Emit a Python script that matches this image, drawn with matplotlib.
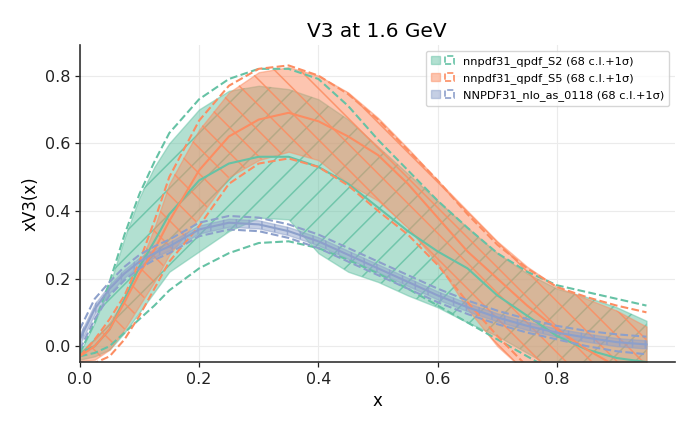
import matplotlib
matplotlib.use("Agg")
import matplotlib.pyplot as plt
import matplotlib.patches as mpatches
from matplotlib.legend_handler import HandlerTuple
from matplotlib.colors import to_rgba

DPI = 230
K = 100.0 / DPI

plt.rcParams.update({
    "font.family": ["DejaVu Sans"],
    "font.size": 10 * K,
    "axes.linewidth": 1.0 * K,
    "lines.linewidth": 1.5 * K,
    "patch.linewidth": 1.0 * K,
    "hatch.linewidth": 1.1 * K,
    "xtick.major.size": 3.5 * K,
    "ytick.major.size": 3.5 * K,
    "xtick.major.width": 0.9 * K,
    "ytick.major.width": 0.9 * K,
    "xtick.major.pad": 3.5 * K,
    "ytick.major.pad": 3.5 * K,
    "grid.linewidth": 0.8 * K,
    "legend.fontsize": 8 * K,
    "axes.titlepad": 6 * K,
    "axes.labelpad": 4 * K,
})

# ---------------- data ----------------
X = [0.0, 0.025, 0.05, 0.075, 0.1, 0.125, 0.15, 0.2, 0.25, 0.3, 0.35, 0.4,
     0.45, 0.5, 0.55, 0.6, 0.65, 0.7, 0.75, 0.8, 0.85, 0.9, 0.95]

labels = ["nnpdf31_qpdf_S2", "nnpdf31_qpdf_S5", "NNPDF31_nlo_as_0118"]
colors = ["#66c2a5", "#fc8d62", "#8da0cb"]
hatches = ["///", "\\\\\\", "|||"]

# nnpdf31_qpdf_S2
s2_cv = [-0.02, 0.00, 0.05, 0.14, 0.235, 0.31, 0.39, 0.49, 0.54, 0.56, 0.56, 0.53,
         0.48, 0.41, 0.34, 0.28, 0.23, 0.15, 0.09, 0.03, -0.01, -0.035, -0.047]
s2_up68 = [-0.02, 0.07, 0.18, 0.32, 0.44, 0.53, 0.60, 0.70, 0.755, 0.77, 0.76, 0.73,
           0.67, 0.59, 0.51, 0.43, 0.35, 0.275, 0.215, 0.17, 0.145, 0.115, 0.075]
s2_lo68 = [-0.04, -0.03, -0.01, 0.04, 0.10, 0.16, 0.22, 0.28, 0.34, 0.38, 0.375, 0.275,
           0.22, 0.19, 0.15, 0.115, 0.07, 0.03, -0.02, -0.07, -0.10, -0.12, -0.14]
s2_up1s = [-0.02, 0.07, 0.19, 0.33, 0.45, 0.545, 0.63, 0.73, 0.79, 0.82, 0.82, 0.79,
           0.71, 0.61, 0.52, 0.43, 0.35, 0.275, 0.22, 0.18, 0.16, 0.14, 0.12]
s2_lo1s = [-0.03, -0.02, 0.0, 0.04, 0.08, 0.12, 0.165, 0.23, 0.275, 0.305, 0.31, 0.29,
           0.255, 0.215, 0.17, 0.12, 0.07, 0.02, -0.03, -0.08, -0.12, -0.15, -0.18]

# nnpdf31_qpdf_S5
s5_cv = [-0.03, 0.0, 0.05, 0.13, 0.215, 0.285, 0.37, 0.52, 0.62, 0.67, 0.69, 0.665,
         0.62, 0.565, 0.48, 0.38, 0.28, 0.20, 0.12, 0.05, -0.01, -0.06, -0.10]
s5_up68 = [-0.02, 0.02, 0.07, 0.14, 0.24, 0.35, 0.48, 0.64, 0.75, 0.81, 0.825, 0.80,
           0.75, 0.675, 0.585, 0.49, 0.40, 0.31, 0.235, 0.175, 0.14, 0.105, 0.058]
s5_lo68 = [-0.045, -0.04, -0.01, 0.05, 0.12, 0.19, 0.27, 0.38, 0.50, 0.55, 0.575, 0.55,
           0.48, 0.43, 0.35, 0.245, 0.11, 0.0, -0.08, -0.14, -0.19, -0.23, -0.27]
s5_up1s = [-0.03, 0.02, 0.08, 0.15, 0.25, 0.37, 0.50, 0.667, 0.77, 0.82, 0.83, 0.80,
           0.745, 0.67, 0.58, 0.49, 0.39, 0.30, 0.23, 0.175, 0.145, 0.12, 0.10]
s5_lo1s = [-0.05, -0.05, -0.03, 0.02, 0.09, 0.17, 0.25, 0.355, 0.48, 0.54, 0.555, 0.53,
           0.475, 0.40, 0.33, 0.24, 0.13, 0.03, -0.06, -0.15, -0.22, -0.28, -0.32]

# NNPDF31_nlo_as_0118
nn_cv = [0.02, 0.11, 0.17, 0.215, 0.25, 0.275, 0.295, 0.345, 0.365, 0.36, 0.34, 0.31,
         0.27, 0.23, 0.19, 0.15, 0.115, 0.085, 0.06, 0.04, 0.025, 0.012, 0.005]
nn_up68 = [0.035, 0.125, 0.182, 0.227, 0.262, 0.287, 0.307, 0.357, 0.377, 0.372, 0.352, 0.322,
           0.282, 0.242, 0.202, 0.162, 0.127, 0.097, 0.072, 0.052, 0.037, 0.024, 0.017]
nn_lo68 = [0.005, 0.095, 0.158, 0.203, 0.238, 0.263, 0.283, 0.333, 0.353, 0.348, 0.328, 0.298,
           0.258, 0.218, 0.178, 0.138, 0.103, 0.073, 0.048, 0.028, 0.013, 0.0, -0.007]
nn_up1s = [0.05, 0.14, 0.19, 0.235, 0.27, 0.295, 0.315, 0.365, 0.385, 0.38, 0.36, 0.33,
           0.29, 0.25, 0.21, 0.17, 0.135, 0.105, 0.08, 0.06, 0.045, 0.035, 0.028]
nn_lo1s = [-0.01, 0.08, 0.15, 0.195, 0.23, 0.255, 0.275, 0.325, 0.345, 0.34, 0.32, 0.29,
           0.25, 0.21, 0.17, 0.13, 0.095, 0.065, 0.04, 0.02, 0.0, -0.015, -0.024]

series = [
    (s2_cv, s2_up68, s2_lo68, s2_up1s, s2_lo1s),
    (s5_cv, s5_up68, s5_lo68, s5_up1s, s5_lo1s),
    (nn_cv, nn_up68, nn_lo68, nn_up1s, nn_lo1s),
]

# ---------------- plot ----------------
fig = plt.figure(figsize=(700 / DPI, 430 / DPI), dpi=DPI)
ax = fig.add_axes([0.114, 0.158, 0.85, 0.737])

handles = []
for (cv, up68, lo68, up1s, lo1s), col, hat, lab in zip(series, colors, hatches, labels):
    ax.plot(X, cv, color=col, lw=1.5 * K, zorder=2)
    ax.fill_between(X, lo68, up68, color=col, alpha=0.5, zorder=1, lw=1.0 * K)
    ax.fill_between(X, lo68, up68, facecolor="none", edgecolor=to_rgba(col, 0.85),
                    hatch=hat, zorder=1, lw=0)
    ax.plot(X, up1s, color=col, ls="--", lw=1.5 * K, zorder=2)
    ax.plot(X, lo1s, color=col, ls="--", lw=1.5 * K, zorder=2)
    h1 = mpatches.Patch(facecolor=to_rgba(col, 0.5), edgecolor=to_rgba(col, 0.5), hatch=hat[0])
    h2 = mpatches.Patch(fill=False, edgecolor=col, ls="--", lw=1.2 * K)
    handles.append((h1, h2))

ax.set_xlim(0, 0.9975)
ax.set_ylim(-0.047, 0.89)
ax.grid(True, color="#ebebeb", lw=0.8 * K)
ax.set_axisbelow(True)
for s in ["top", "right"]:
    ax.spines[s].set_visible(False)
for s in ["left", "bottom"]:
    ax.spines[s].set_color("#333333")
    ax.spines[s].set_linewidth(1.2 * K)

ax.tick_params(labelsize=11.5 * K, colors="#222222")
ax.set_title("V3 at 1.6 GeV", fontsize=14.5 * K)
ax.set_xlabel("x", fontsize=12 * K)
ax.set_ylabel("xV3(x)", fontsize=12 * K)

legend_labels = [f"{l} (68 c.l.+1σ)" for l in labels]
ax.legend(handles, legend_labels, loc="upper right", fontsize=8.2 * K,
          handler_map={tuple: HandlerTuple(ndivide=None)},
          framealpha=0.8, borderpad=0.45, handlelength=2.0, labelspacing=0.55)

fig.savefig("out.png", dpi=DPI)
